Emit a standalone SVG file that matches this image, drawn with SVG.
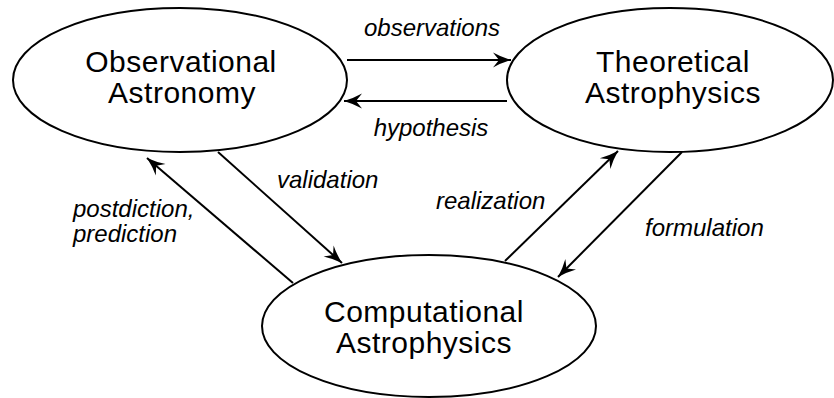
<svg xmlns="http://www.w3.org/2000/svg" width="834" height="398" viewBox="0 0 834 398">
<style>
.node ellipse{fill:#fff;stroke:#000;stroke-width:2}
.node text{font-family:"Liberation Sans",Arial,sans-serif;font-size:30px;letter-spacing:0.5px;fill:#000;text-anchor:middle}
.conn line{stroke:#000;stroke-width:2;fill:none}
.lbl{font-family:"Liberation Sans",Arial,sans-serif;font-size:24px;font-style:italic;fill:#000}
</style>
<defs>
<marker id="ah" markerUnits="userSpaceOnUse" markerWidth="22" markerHeight="18" viewBox="-20 -9 22 18" refX="0" refY="0" orient="auto">
<path d="M0,0 Q-10,-3 -18,-7.5 L-12,0 L-18,7.5 Q-10,3 0,0 Z" fill="#000"/>
</marker>
</defs>
<g id="observational" class="node">
<ellipse cx="180" cy="80" rx="167" ry="72"/>
<text x="181" y="72">Observational</text>
<text x="182" y="103">Astronomy</text>
</g>
<g id="theoretical" class="node">
<ellipse cx="670" cy="80" rx="163" ry="72"/>
<text x="673" y="72">Theoretical</text>
<text x="673" y="103">Astrophysics</text>
</g>
<g id="computational" class="node">
<ellipse cx="429" cy="326" rx="167" ry="71"/>
<text x="424" y="322">Computational</text>
<text x="424" y="353">Astrophysics</text>
</g>
<g id="connectors" class="conn">
<line x1="347" y1="60" x2="511" y2="60" marker-end="url(#ah)"/>
<line x1="507" y1="101" x2="344" y2="101" marker-end="url(#ah)"/>
<line x1="293" y1="283" x2="147" y2="158" marker-end="url(#ah)"/>
<line x1="218" y1="152" x2="342" y2="263" marker-end="url(#ah)"/>
<line x1="505" y1="261" x2="618" y2="151" marker-end="url(#ah)"/>
<line x1="682" y1="152" x2="558" y2="277" marker-end="url(#ah)"/>
</g>
<g id="labels">
<text class="lbl" x="432" y="36" text-anchor="middle">observations</text>
<text class="lbl" x="431" y="136" text-anchor="middle">hypothesis</text>
<text class="lbl" x="277" y="188">validation</text>
<text class="lbl" x="73" y="217">postdiction,</text>
<text class="lbl" x="73" y="242">prediction</text>
<text class="lbl" x="436" y="209">realization</text>
<text class="lbl" x="645" y="236">formulation</text>
</g>
</svg>
